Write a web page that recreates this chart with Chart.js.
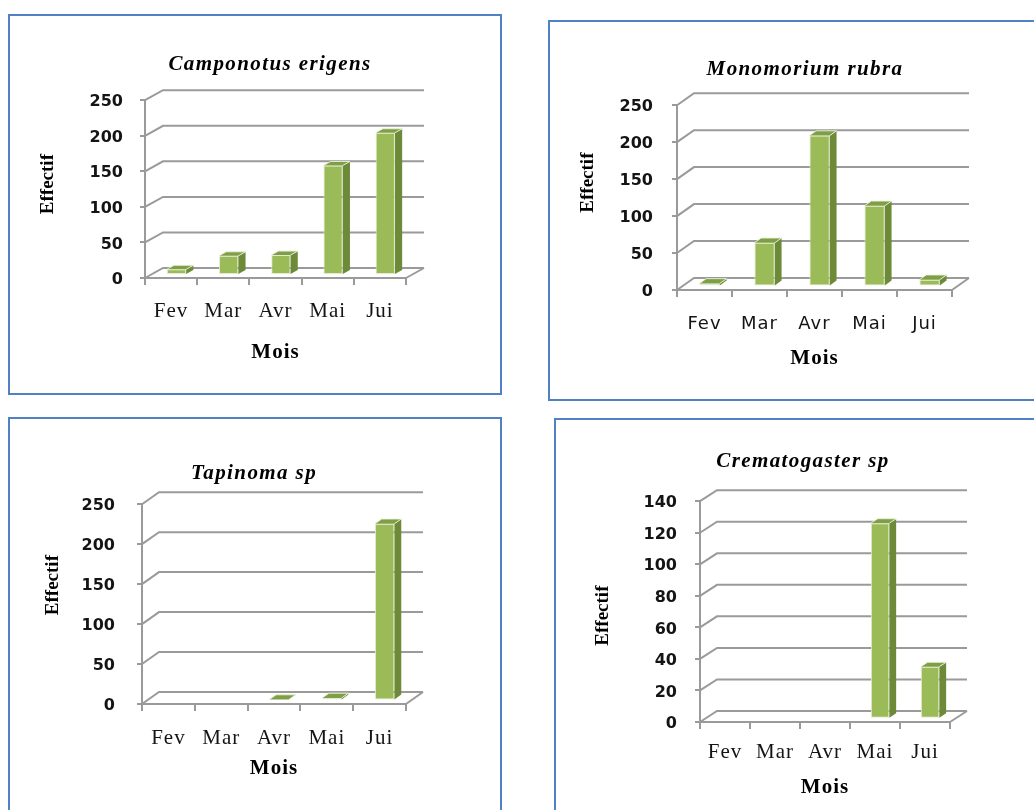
<!DOCTYPE html>
<html>
<head>
<meta charset="utf-8">
<script src="https://cdn.jsdelivr.net/npm/chart.js@4.4.1/dist/chart.umd.min.js"></script>
<style>
  html, body { margin: 0; padding: 0; background: #fff; overflow: hidden; width: 1034px; height: 810px; }
  .panel { position: absolute; box-sizing: border-box; border: 2px solid #4f81c4; background: #fff; }
  .panel canvas { display: block; }
</style>
</head>
<body>
<div class="panel" style="left:8px;top:14px;width:494px;height:381px"><canvas id="c1" width="490" height="377"></canvas></div>
<div class="panel" style="left:548px;top:20px;width:490px;height:381px"><canvas id="c2" width="486" height="377"></canvas></div>
<div class="panel" style="left:8px;top:417px;width:494px;height:400px"><canvas id="c3" width="490" height="396"></canvas></div>
<div class="panel" style="left:554px;top:418px;width:490px;height:400px"><canvas id="c4" width="486" height="396"></canvas></div>
<script>
// Monthly counts (Effectif) per ant species
const months = ['Fev', 'Mar', 'Avr', 'Mai', 'Jui'];
const camponotusErigens = [8, 27, 28, 154, 200];
const monomoriumRubra = [4, 59, 204, 109, 9];
const tapinomaSp = [0, 0, 1, 3, 221];
const crematogasterSp = [0, 0, 0, 124, 33];

// y-axis tick values
const ticks250 = [0, 50, 100, 150, 200, 250];
const ticks140 = [0, 20, 40, 60, 80, 100, 120, 140];

const SERIF = "'Liberation Serif', 'Times New Roman', serif";
const SANS = "'DejaVu Sans', Verdana, sans-serif";
const GRID = '#9a9a9a';
const TEXT = '#141414';

// wrap a drawing method so it runs with extra letter spacing and an optional offset
function styled(obj, method, spacing, shiftX, shiftY) {
  const orig = obj[method];
  if (orig.__styled) return;
  const wrapped = function (...args) {
    const c = this.ctx;
    c.save();
    c.letterSpacing = spacing;
    c.translate(shiftX || 0, shiftY || 0);
    orig.apply(this, args);
    c.restore();
  };
  wrapped.__styled = true;
  obj[method] = wrapped;
}

// Pseudo-3D column look: side wall + back wall gridlines, floor, and box faces on the bars
const depth3d = {
  id: 'depth3d',
  afterLayout(chart, args, opts) {
    const t = chart.titleBlock;
    if (t && opts.titleX != null) {
      const half = (t.right - t.left) / 2;
      t.left = opts.titleX - half;
      t.right = opts.titleX + half;
      styled(t, 'draw', opts.titleSpacing);
    }
    styled(chart.scales.x, 'drawLabels', opts.xSpacing);
    styled(chart.scales.x, 'drawTitle', '1px');
    styled(chart.scales.y, 'drawTitle', '0px', 0, opts.yTitleShift);
    styled(chart.scales.y, 'drawLabels', '0px', 0, 2);
  },
  beforeDatasetsDraw(chart, args, opts) {
    const { ctx, chartArea: a, scales: { y } } = chart;
    const dx = opts.dx, dy = opts.dy;
    ctx.save();
    ctx.strokeStyle = GRID;
    ctx.lineWidth = 2;
    y.ticks.forEach(t => {
      const py = y.getPixelForValue(t.value);
      ctx.beginPath();
      ctx.moveTo(a.left, py);
      ctx.lineTo(a.left + dx, py + dy);
      ctx.lineTo(a.right + dx, py + dy);
      ctx.stroke();
    });
    const y0 = y.getPixelForValue(0);
    ctx.beginPath();
    ctx.moveTo(a.right, y0);
    ctx.lineTo(a.right + dx, y0 + dy);
    ctx.stroke();
    ctx.restore();
    // bars sit in the middle of the floor depth
    ctx.save();
    ctx.translate(dx * opts.front, dy * opts.front);
  },
  afterDatasetsDraw(chart, args, opts) {
    const ctx = chart.ctx;
    const bdx = opts.dx * opts.barDepth, bdy = opts.dy * opts.barDepth;
    const values = chart.data.datasets[0].data;
    chart.getDatasetMeta(0).data.forEach((bar, i) => {
      if (!values[i]) return;
      const { x, y, base, width } = bar.getProps(['x', 'y', 'base', 'width'], true);
      const l = x - width / 2, r = x + width / 2;
      ctx.fillStyle = '#6d8a38';
      ctx.beginPath();
      ctx.moveTo(r, y); ctx.lineTo(r + bdx, y + bdy); ctx.lineTo(r + bdx, base + bdy); ctx.lineTo(r, base);
      ctx.closePath(); ctx.fill();
      ctx.fillStyle = '#7f9f45';
      ctx.beginPath();
      ctx.moveTo(l, y); ctx.lineTo(l + bdx, y + bdy); ctx.lineTo(r + bdx, y + bdy); ctx.lineTo(r, y);
      ctx.closePath(); ctx.fill();
      ctx.strokeStyle = 'rgba(235,242,220,0.9)';
      ctx.lineWidth = 1;
      ctx.beginPath();
      ctx.moveTo(l, y); ctx.lineTo(l + bdx, y + bdy); ctx.lineTo(r + bdx, y + bdy); ctx.lineTo(r, y);
      ctx.stroke();
    });
    ctx.restore();
  }
};

function buildChart(id, title, values, tickValues, g) {
  return new Chart(document.getElementById(id), {
    type: 'bar',
    data: {
      labels: months,
      datasets: [{
        data: values,
        backgroundColor: '#9bbb59',
        borderColor: '#e2ebcf',
        borderWidth: 1,
        borderSkipped: false,
        barPercentage: 0.37,
        categoryPercentage: 1,
        clip: false
      }]
    },
    options: {
      responsive: false,
      animation: false,
      devicePixelRatio: 1,
      events: [],
      layout: { padding: { left: g.padL, right: g.padR, top: g.padT, bottom: g.padB } },
      plugins: {
        legend: { display: false },
        tooltip: { enabled: false },
        title: {
          display: true, text: title, color: '#000',
          font: { family: SERIF, size: 21, weight: 'bold', style: 'italic', lineHeight: 1.2 },
          padding: { top: 0, bottom: g.titleGap }
        },
        depth3d: {
          dx: g.dx, dy: g.dy, front: 0.3, barDepth: 0.4, titleX: g.titleX,
          titleSpacing: '1.4px', xSpacing: '1px', yTitleShift: g.yTitleShift
        }
      },
      scales: {
        x: {
          offset: true,
          grid: { offset: true, drawOnChartArea: false, tickLength: 7, color: GRID, lineWidth: 2 },
          border: { color: GRID, width: 2 },
          ticks: { padding: g.xPad, color: TEXT, font: g.xFont },
          title: { display: true, text: 'Mois', color: '#000', padding: 0,
                   font: { family: SERIF, size: 21, weight: 'bold', lineHeight: 1.2 } },
          afterFit(s) { s.height = g.xh; }
        },
        y: {
          min: tickValues[0],
          max: tickValues[tickValues.length - 1],
          afterBuildTicks(s) { s.ticks = tickValues.map(v => ({ value: v })); },
          grid: { drawOnChartArea: false, tickLength: 5, color: GRID, lineWidth: 2 },
          border: { color: GRID, width: 2 },
          ticks: { padding: g.yPad, color: TEXT, font: { family: SANS, size: 16, weight: 'bold' } },
          title: { display: true, text: 'Effectif', color: '#000', padding: 0,
                   font: { family: SERIF, size: 19, weight: 'bold', lineHeight: 1.2 } },
          afterFit(s) { s.width = g.yw; }
        }
      }
    },
    plugins: [depth3d]
  });
}

const serifLabels = { family: SERIF, size: 21, lineHeight: 1.2 };
const sansLabels = { family: SANS, size: 18, lineHeight: 1.2 };

buildChart('c1', 'Camponotus erigens', camponotusErigens, ticks250, {
  padL: 27, padR: 94, padT: 36, padB: 28, titleGap: 23, yw: 108, xh: 87,
  yPad: 17, xPad: 14, xFont: serifLabels, dx: 18, dy: -10, titleX: 260, yTitleShift: -5
});
buildChart('c2', 'Monomorium rubra', monomoriumRubra, ticks250, {
  padL: 27, padR: 84, padT: 35, padB: 28, titleGap: 23, yw: 100, xh: 81,
  yPad: 19, xPad: 17, xFont: sansLabels, dx: 17, dy: -12, titleX: 255, yTitleShift: -15
});
buildChart('c3', 'Tapinoma sp', tapinomaSp, ticks250, {
  padL: 32, padR: 94, padT: 42, padB: 34, titleGap: 18, yw: 100, xh: 77,
  yPad: 22, xPad: 15, xFont: serifLabels, dx: 17, dy: -12, titleX: 244, yTitleShift: -19
});
buildChart('c4', 'Crematogaster sp', crematogasterSp, ticks140, {
  padL: 36, padR: 92, padT: 29, padB: 16, titleGap: 27, yw: 108, xh: 78,
  yPad: 18, xPad: 11, xFont: serifLabels, dx: 17, dy: -11, titleX: 247, yTitleShift: 4
});
</script>
</body>
</html>
